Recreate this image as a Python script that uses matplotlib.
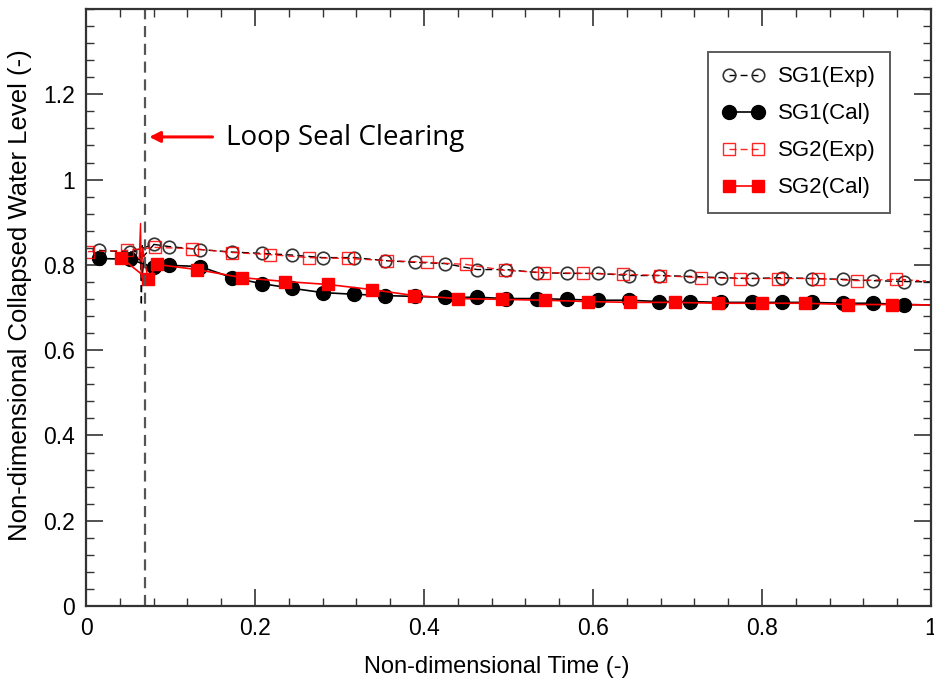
import matplotlib
matplotlib.use("Agg")
import matplotlib.pyplot as plt
from matplotlib.ticker import MultipleLocator

plt.rcParams['font.family'] = ['Liberation Sans', 'DejaVu Sans']

# ---- data ----
sg1_exp_x = [0.0154, 0.052, 0.0805, 0.098, 0.135, 0.173, 0.208, 0.244, 0.280, 0.317, 0.354, 0.389,
             0.425, 0.463, 0.497, 0.534, 0.569, 0.606, 0.643, 0.678, 0.715, 0.751, 0.788, 0.824,
             0.859, 0.896, 0.931, 0.968]
sg1_exp_y = [0.834, 0.830, 0.848, 0.843, 0.836, 0.830, 0.827, 0.823, 0.817, 0.817, 0.810, 0.806,
             0.803, 0.789, 0.789, 0.782, 0.780, 0.780, 0.775, 0.775, 0.773, 0.770, 0.768, 0.770,
             0.768, 0.766, 0.763, 0.761]
sg1_cal_y = [0.815, 0.813, 0.794, 0.799, 0.796, 0.770, 0.756, 0.745, 0.735, 0.731, 0.728, 0.726,
             0.724, 0.724, 0.721, 0.721, 0.719, 0.717, 0.717, 0.714, 0.714, 0.712, 0.712, 0.712,
             0.712, 0.710, 0.710, 0.707]

sg2_exp_x = [0.0024, 0.0485, 0.0817, 0.1254, 0.1728, 0.2178, 0.2639, 0.310, 0.3562, 0.4036, 0.4497,
             0.4959, 0.542, 0.5882, 0.6355, 0.6793, 0.7278, 0.774, 0.819, 0.866, 0.912, 0.9586]
sg2_exp_y = [0.831, 0.834, 0.841, 0.838, 0.829, 0.824, 0.817, 0.815, 0.810, 0.806, 0.801,
             0.787, 0.782, 0.780, 0.778, 0.775, 0.770, 0.768, 0.768, 0.768, 0.763, 0.766]

sg2_cal_x = [0.0414, 0.0734, 0.084, 0.1314, 0.1846, 0.2355, 0.2864, 0.3385, 0.3882, 0.4402, 0.4923,
             0.5432, 0.5941, 0.6438, 0.697, 0.748, 0.80, 0.851, 0.9018, 0.9538]
sg2_cal_y = [0.817, 0.766, 0.801, 0.789, 0.770, 0.761, 0.754, 0.742, 0.728, 0.721, 0.719,
             0.717, 0.714, 0.712, 0.712, 0.710, 0.710, 0.710, 0.707, 0.707]

# transient oscillations near loop seal clearing (unmarked line points)
sg1_exp_spike_x = [0.052, 0.0645, 0.0655, 0.0665, 0.068, 0.0805]
sg1_exp_spike_y = [0.830, 0.832, 0.705, 0.845, 0.820, 0.848]
sg1_cal_spike_x = [0.052, 0.064, 0.0665, 0.069, 0.072, 0.075, 0.0805]
sg1_cal_spike_y = [0.813, 0.812, 0.775, 0.815, 0.785, 0.805, 0.794]
sg2_cal_spike_x = [0.0414, 0.063, 0.0645, 0.0655, 0.067, 0.0734]
sg2_cal_spike_y = [0.817, 0.815, 0.897, 0.770, 0.840, 0.766]

end_x = 1.0
sg1_exp_end, sg1_cal_end, sg2_exp_end, sg2_cal_end = 0.760, 0.706, 0.761, 0.706

loop_seal_x = 0.07

RED = "#ff0000"

fig = plt.figure(figsize=(9.34, 6.82), dpi=100)
ax = fig.add_axes([0.0921, 0.1114, 0.9047, 0.8754])

# spikes
ax.plot(sg1_exp_spike_x, sg1_exp_spike_y, color="black", lw=1.0, ls=(0, (5, 3)))
ax.plot(sg1_cal_spike_x, sg1_cal_spike_y, color="black", lw=1.0)
ax.plot(sg2_cal_spike_x, sg2_cal_spike_y, color=RED, lw=1.0)

# tails to axis edge
ax.plot([sg1_exp_x[-1], end_x], [sg1_exp_y[-1], sg1_exp_end], color="black", lw=1.0, ls=(0, (5, 3)))
ax.plot([sg1_exp_x[-1], end_x], [sg1_cal_y[-1], sg1_cal_end], color="black", lw=1.2)
ax.plot([sg2_exp_x[-1], end_x], [sg2_exp_y[-1], sg2_exp_end], color=RED, lw=1.2, ls=(0, (2, 2)))
ax.plot([sg2_cal_x[-1], end_x], [sg2_cal_y[-1], sg2_cal_end], color=RED, lw=1.2)

l1, = ax.plot(sg1_exp_x, sg1_exp_y, color="black", lw=1.0, ls=(0, (5, 3)), marker="o",
              ms=9, mfc="none", mec="#333333", mew=1.2, label="SG1(Exp)")
l2, = ax.plot(sg1_exp_x, sg1_cal_y, color="black", lw=1.2, marker="o", ms=10,
              mfc="black", mec="black", label="SG1(Cal)")
l3, = ax.plot(sg2_exp_x, sg2_exp_y, color=RED, lw=1.0, ls=(0, (5, 3)), marker="s", ms=8.5,
              mfc="none", mec=RED, mew=1.0, alpha=0.85, label="SG2(Exp)")
l4, = ax.plot(sg2_cal_x, sg2_cal_y, color=RED, lw=1.2, marker="s", ms=9,
              mfc=RED, mec=RED, label="SG2(Cal)")

ax.axvline(loop_seal_x, color="#555555", lw=1.6, ls=(0, (5, 3)))

ax.annotate("", xy=(0.0715, 1.1), xytext=(0.153, 1.1),
            arrowprops=dict(arrowstyle="-|>", color=RED, lw=2.2, mutation_scale=16))
ax.text(0.166, 1.097, "Loop Seal Clearing", fontsize=20, family=["Open Sans", "DejaVu Sans"],
        va="center", ha="left", color="black")

ax.set_xlim(0, 1)
ax.set_ylim(0, 1.4)
ax.set_xticks([0, 0.2, 0.4, 0.6, 0.8, 1.0])
ax.set_xticklabels(["0", "0.2", "0.4", "0.6", "0.8", "1"])
ax.set_yticks([0, 0.2, 0.4, 0.6, 0.8, 1.0, 1.2])
ax.set_yticklabels(["0", "0.2", "0.4", "0.6", "0.8", "1", "1.2"])
ax.xaxis.set_minor_locator(MultipleLocator(0.04))
ax.yaxis.set_minor_locator(MultipleLocator(0.04))
ax.tick_params(which="both", direction="in", top=True, right=True, colors="#333333",
               labelcolor="black", labelsize=16.5)
ax.tick_params(which="major", length=12, width=1.2, pad=8)
ax.tick_params(which="minor", length=6, width=1.0)
for s in ax.spines.values():
    s.set_linewidth(1.6)
    s.set_color("#333333")

ax.set_xlabel("Non-dimensional Time (-)", fontsize=17)
ax.xaxis.set_label_coords(0.486, -0.083)
ax.set_ylabel("Non-dimensional Collapsed Water Level (-)", fontsize=18.5)
ax.yaxis.set_label_coords(-0.064, 0.52)

leg = ax.legend(handles=[l1, l2, l3, l4], loc="upper right", bbox_to_anchor=(0.9515, 0.928),
                fontsize=16, frameon=True, fancybox=False, handlelength=1.9, numpoints=2,
                labelspacing=0.72, borderpad=0.65, handletextpad=0.6, borderaxespad=0)
leg.get_frame().set_edgecolor("#333333")
leg.get_frame().set_linewidth(1.4)

fig.savefig("out.png", dpi=100)
